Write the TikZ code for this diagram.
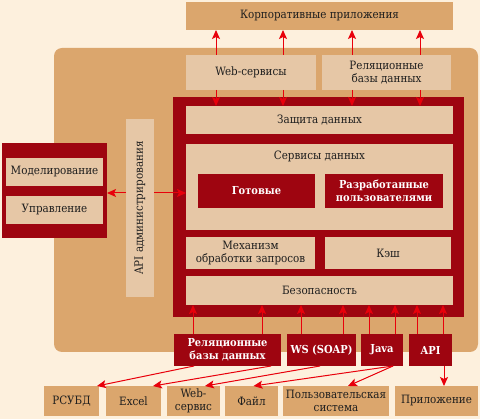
\documentclass[tikz,border=0pt]{standalone}
\usepackage{fontspec}
\setmainfont{DejaVu Serif Condensed}
\usetikzlibrary{arrows.meta,calc}
\definecolor{cream}{HTML}{FDF0DD}
\definecolor{tanc}{HTML}{DBA66D}
\definecolor{lightc}{HTML}{E6C7A6}
\definecolor{darkred}{HTML}{9E0510}
\definecolor{arrred}{HTML}{E8000B}
\definecolor{txt}{HTML}{1E1E1E}
\newcommand\mybox[7]{\node[#6, minimum width={#4pt-#2pt}, minimum height={#5pt-#3pt}] (#1) at ({(#2+#4)/2},{(#3+#5)/2}) {#7};}
\begin{document}
\begin{tikzpicture}[x=1pt,y=-1pt,
  base/.style={inner sep=0pt, outer sep=0pt, align=center, font=\fontsize{11.5}{13.3}\selectfont},
  tanbox/.style={base, fill=tanc, text=txt},
  lightbox/.style={base, fill=lightc, text=txt},
  redbox/.style={base, fill=darkred, text=white, font=\fontsize{11}{13}\selectfont\bfseries},
  frame/.style={base, fill=darkred},
  arr/.style={draw=arrred, line width=1pt, -{Stealth[length=9pt,width=8pt,inset=2pt]}}]
\fill[cream] (0,0) rectangle (480,419);
\useasboundingbox (0,0) rectangle (480,419);
% containers
\mybox{platform}{54}{48}{478}{352}{base, fill=tanc, rounded corners=8pt}{}
\mybox{corp}{186}{2}{453}{30}{tanbox}{Корпоративные приложения}
\mybox{web}{186}{55}{316}{90}{lightbox}{Web-сервисы}
\mybox{relt}{322}{55}{451}{90}{lightbox}{Реляционные\\базы данных}
\mybox{core}{173}{97}{464}{317}{frame}{}
\mybox{prot}{186}{106}{453}{134}{lightbox}{Защита данных}
\mybox{serv}{186}{144}{453}{230}{lightbox}{}
\node[base, text=txt, anchor=north] (servt) at ($(serv.north)+(0,7)$) {Сервисы данных};
\mybox{ready}{198}{174}{315}{208}{redbox}{Готовые}
\mybox{user}{325}{174}{443}{208}{redbox}{Разработанные\\пользователями}
\mybox{mech}{186}{237}{315}{269}{lightbox}{Механизм\\обработки запросов}
\mybox{cache}{325}{237}{451}{269}{lightbox}{Кэш}
\mybox{bez}{186}{276}{453}{305}{lightbox}{Безопасность}
\mybox{api}{126}{119}{154}{297}{lightbox}{}
\node[base, text=txt, rotate=90] (apit) at (api.center) {API администрирования};
\mybox{lbox}{2}{143}{107}{238}{frame}{}
\mybox{model}{6}{158}{103}{186}{lightbox}{Моделирование}
\mybox{upr}{6}{196}{103}{224}{lightbox}{Управление}
% bottom sources
\mybox{rdb}{174}{334}{281}{366}{redbox}{Реляционные\\базы данных}
\mybox{ws}{287}{334}{356}{366}{redbox}{WS (SOAP)}
\mybox{java}{361}{334}{403}{366}{redbox}{Java}
\mybox{apib}{409}{334}{452}{366}{redbox}{API}
% bottom targets
\mybox{rsubd}{44}{386}{99}{416}{tanbox}{РСУБД}
\mybox{excel}{106}{386}{161}{416}{tanbox}{Excel}
\mybox{websrv}{167}{386}{220}{416}{tanbox}{Web-\\сервис}
\mybox{file}{225}{386}{278}{416}{tanbox}{Файл}
\mybox{usys}{283}{386}{389}{416}{tanbox}{Пользовательская\\система}
\mybox{app}{395}{386}{478}{416}{tanbox}{Приложение}
% top arrows
\foreach \x in {216,283} {
  \draw[arr] (\x,0 |- web.north) -- (\x,0 |- corp.south);
  \draw[arr] (\x,0 |- web.south) -- (\x,0 |- prot.north);
}
\foreach \x in {352,420} {
  \draw[arr] (\x,0 |- relt.north) -- (\x,0 |- corp.south);
  \draw[arr] (\x,0 |- relt.south) -- (\x,0 |- prot.north);
}
% admin arrows
\draw[arr] (api.west |- 0,193) -- (lbox.east |- 0,193);
\draw[arr] (api.east |- 0,193) -- (serv.west |- 0,193);
% bottom up arrows
\foreach \x in {193,262} {\draw[arr] (\x,0 |- rdb.north) -- (\x,0 |- bez.south);}
\foreach \x in {301,343} {\draw[arr] (\x,0 |- ws.north) -- (\x,0 |- bez.south);}
\foreach \x in {369,395} {\draw[arr] (\x,0 |- java.north) -- (\x,0 |- bez.south);}
\foreach \x in {417,443} {\draw[arr] (\x,0 |- apib.north) -- (\x,0 |- bez.south);}
% bottom down arrows
\draw[arr] (194,0 |- rdb.south) -- ([xshift=-2pt]rsubd.north east);
\draw[arr] (271,0 |- rdb.south) -- ([xshift=-8pt]excel.north east);
\draw[arr] (320,0 |- ws.south) -- ([xshift=-15pt]websrv.north east);
\draw[arr] (393,0 |- java.south) -- ([xshift=2pt]file.north);
\draw[arr] (393,0 |- java.south) -- ([xshift=12pt]usys.north);
\draw[arr] (444,0 |- apib.south) -- (444,0 |- app.north);
\end{tikzpicture}
\end{document}
